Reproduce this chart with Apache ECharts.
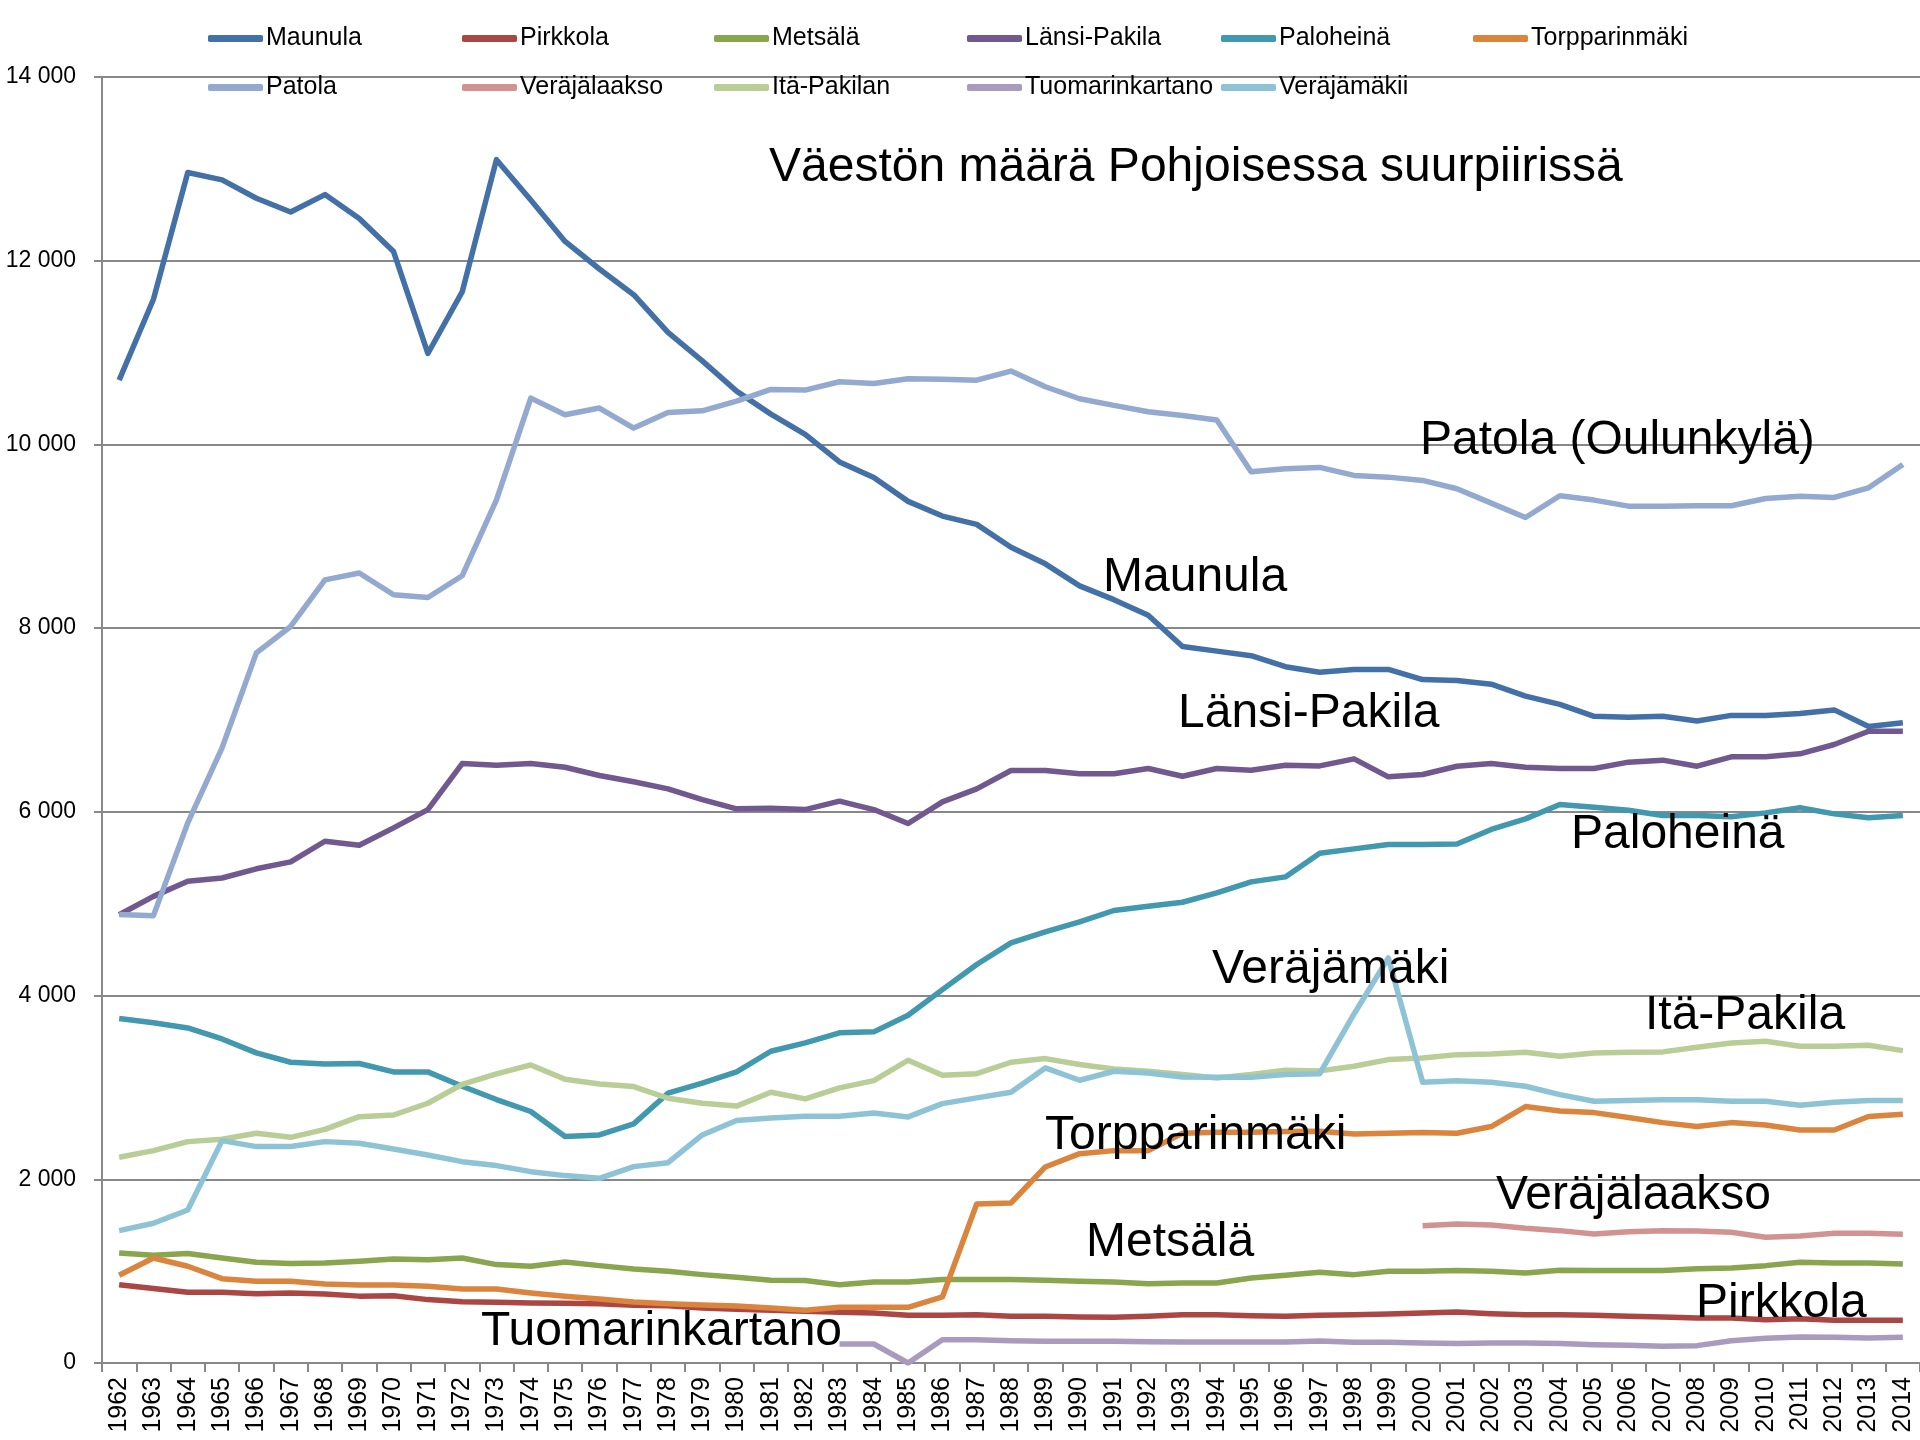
<!DOCTYPE html>
<html>
<head>
<meta charset="utf-8">
<script src="https://cdn.jsdelivr.net/npm/echarts@6/dist/echarts.min.js"></script>
<style>
html,body{margin:0;padding:0;background:#fff;}
#chart{width:1920px;height:1440px;}
</style>
</head>
<body>
<div id="chart"></div>
<script>
var years = ['1962','1963','1964','1965','1966','1967','1968','1969','1970','1971',
'1972','1973','1974','1975','1976','1977','1978','1979','1980','1981',
'1982','1983','1984','1985','1986','1987','1988','1989','1990','1991',
'1992','1993','1994','1995','1996','1997','1998','1999','2000','2001',
'2002','2003','2004','2005','2006','2007','2008','2009','2010','2011',
'2012','2013','2014'];

var maunula = [10700,11580,12960,12880,12680,12530,12720,12460,12100,10990,
11660,13100,12660,12210,11910,11630,11220,10910,10580,10330,
10110,9810,9640,9380,9220,9130,8880,8700,8460,8310,
8140,7800,7750,7700,7580,7520,7550,7550,7440,7430,
7390,7260,7170,7040,7030,7040,6990,7050,7050,7070,
7110,6930,6970];

var pirkkola = [853,810,770,770,755,762,751,728,733,690,
668,661,653,650,646,630,624,600,585,574,
563,552,545,519,519,526,510,508,501,497,
508,526,526,515,508,519,526,534,545,555,
537,526,526,519,508,501,490,490,472,483,
465,465,465];

var metsala = [1198,1172,1191,1143,1096,1082,1089,1107,1133,1125,
1143,1071,1053,1100,1060,1024,998,962,933,900,
897,853,882,882,908,908,908,900,889,882,
864,871,871,926,955,987,962,998,998,1006,
998,980,1009,1006,1006,1006,1027,1035,1060,1096,
1089,1089,1078];

var lansiPakila = [4880,5080,5245,5280,5380,5456,5680,5637,5826,6025,
6526,6508,6526,6486,6396,6327,6250,6134,6033,6040,
6025,6116,6025,5873,6109,6250,6450,6450,6414,6414,
6472,6388,6472,6454,6508,6500,6577,6381,6407,6497,
6526,6486,6472,6472,6541,6563,6497,6599,6599,6632,
6733,6878,6878];

var paloheina = [3750,3703,3648,3528,3376,3274,3256,3260,3169,3169,
3013,2868,2738,2465,2483,2603,2937,3046,3170,3394,
3485,3594,3605,3786,4065,4338,4574,4693,4802,4926,
4973,5016,5118,5238,5292,5550,5597,5644,5644,5650,
5808,5924,6080,6051,6018,5960,5960,5946,5989,6044,
5978,5935,5960];

var torpparinmaki = [955,1143,1053,918,889,889,860,849,849,835,
806,806,762,726,697,664,646,632,620,599,
574,606,606,606,719,1731,1742,2134,2279,2312,
2312,2501,2512,2512,2519,2522,2494,2501,2508,2501,
2574,2792,2744,2726,2672,2617,2574,2617,2592,2537,
2537,2683,2708];

var patola = [4882,4870,5880,6697,7731,8018,8526,8600,8363,8334,
8570,9397,10504,10323,10396,10178,10348,10366,10472,10599,
10592,10682,10664,10715,10710,10700,10799,10628,10497,10425,
10356,10316,10265,9702,9735,9750,9663,9644,9608,9517,
9361,9205,9441,9394,9328,9328,9332,9332,9412,9437,
9423,9528,9782];

var verajalaakso = [null,null,null,null,null,null,null,null,null,null,
null,null,null,null,null,null,null,null,null,null,
null,null,null,null,null,null,null,null,null,null,
null,null,null,null,null,null,null,null,1495,1514,
1503,1466,1441,1405,1430,1441,1437,1423,1368,1383,
1412,1412,1401];

var itaPakilan = [2240,2312,2410,2436,2501,2457,2544,2682,2700,2828,
3034,3147,3245,3089,3038,3009,2882,2828,2797,2948,
2875,2995,3074,3296,3132,3150,3274,3314,3249,3201,
3176,3140,3103,3140,3187,3180,3230,3303,3321,3357,
3365,3383,3339,3376,3383,3387,3437,3484,3502,3448,
3448,3459,3401];

var tuomarinkartano = [null,null,null,null,null,null,null,null,null,null,
null,null,null,null,null,null,null,null,null,null,
null,207,207,0,254,254,243,236,236,236,
232,229,229,229,229,240,225,225,218,211,
218,218,211,200,192,182,189,243,269,283,
280,272,280];

var verajamakii = [1441,1521,1666,2421,2356,2356,2410,2392,2330,2265,
2192,2149,2083,2040,2011,2138,2181,2483,2640,2668,
2686,2686,2722,2679,2824,2886,2948,3212,3078,3176,
3158,3114,3111,3111,3140,3150,3800,4410,3056,3074,
3056,3013,2922,2849,2857,2867,2867,2849,2849,2806,
2838,2857,2857];

var seriesNames = ['Maunula','Pirkkola','Metsälä','Länsi-Pakila','Paloheinä','Torpparinmäki',
'Patola','Veräjälaakso','Itä-Pakilan','Tuomarinkartano','Veräjämäkii'];
var seriesData = [maunula,pirkkola,metsala,lansiPakila,paloheina,torpparinmaki,
patola,verajalaakso,itaPakilan,tuomarinkartano,verajamakii];
var colors = ['#4470A8','#AA4643','#89A54E','#71588F','#4198AF','#DB843D',
'#93A9CF','#D19392','#B9CD96','#A99BBD','#8EC3D6'];

var title = 'Väestön määrä Pohjoisessa suurpiirissä';
var annotations = [
  {text:'Patola (Oulunkylä)', x:1420, y:441},
  {text:'Maunula', x:1103, y:578},
  {text:'Länsi-Pakila', x:1178, y:714},
  {text:'Paloheinä', x:1571, y:835},
  {text:'Veräjämäki', x:1212, y:970},
  {text:'Itä-Pakila', x:1645, y:1016},
  {text:'Torpparinmäki', x:1045, y:1136},
  {text:'Veräjälaakso', x:1496, y:1196},
  {text:'Metsälä', x:1086, y:1243},
  {text:'Pirkkola', x:1696, y:1304},
  {text:'Tuomarinkartano', x:481, y:1332}
];

var FONT = '"Liberation Sans", Arial, sans-serif';
var GRID = '#888888';

var legendCols = [208, 462, 714, 967, 1221, 1473];
var legendRows = [26, 75];
var legends = seriesNames.map(function(n, i){
  var row = i < 6 ? 0 : 1;
  var col = i < 6 ? i : i - 6;
  return {
    data: [n],
    left: legendCols[col],
    top: legendRows[row],
    padding: 0,
    itemWidth: 55,
    itemHeight: 7,
    icon: 'roundRect',
    selectedMode: false,
    textStyle: {fontFamily: FONT, fontSize: 25, color: '#000', padding: [0,0,0,-2]}
  };
});

var series = seriesNames.map(function(n, i){
  return {
    name: n,
    type: 'line',
    data: seriesData[i],
    symbol: 'none',
    showSymbol: false,
    connectNulls: false,
    animation: false,
    lineStyle: {color: colors[i], width: 5.5, join: 'round'},
    itemStyle: {color: colors[i]},
    z: 2 + i
  };
});

var graphics = [{
  type: 'text', left: 769, top: 171 - 27,
  style: {text: title, font: '48px ' + FONT, fill: '#000'}
}].concat(annotations.map(function(a){
  return {
    type: 'text', x: a.x, y: a.y,
    style: {text: a.text, font: '48px ' + FONT, fill: '#000', verticalAlign: 'middle', align: 'left'},
    z: 100
  };
}));

var chart = echarts.init(document.getElementById('chart'), null, {renderer: 'canvas'});
chart.setOption({
  animation: false,
  backgroundColor: '#ffffff',
  color: colors,
  legend: legends,
  grid: {left: 102, right: 0, top: 77, bottom: 77, containLabel: false},
  xAxis: {
    type: 'category',
    data: years,
    boundaryGap: true,
    axisLine: {lineStyle: {color: GRID, width: 2}},
    axisTick: {show: true, interval: 0, length: 9, lineStyle: {color: GRID, width: 2}},
    axisLabel: {interval: 0, rotate: 90, fontFamily: FONT, fontSize: 25, color: '#000', margin: 14},
    splitLine: {show: false}
  },
  yAxis: {
    type: 'value',
    min: 0, max: 14000, interval: 2000,
    axisLine: {show: true, lineStyle: {color: GRID, width: 2}},
    axisTick: {show: true, length: 8, lineStyle: {color: GRID, width: 2}},
    axisLabel: {
      fontFamily: FONT, fontSize: 23, color: '#000', margin: 26,
      formatter: function(v){ return String(v).replace(/\B(?=(\d{3})+(?!\d))/g, ' '); }
    },
    splitLine: {show: true, lineStyle: {color: GRID, width: 2}}
  },
  series: series,
  graphic: graphics
});
</script>
</body>
</html>
